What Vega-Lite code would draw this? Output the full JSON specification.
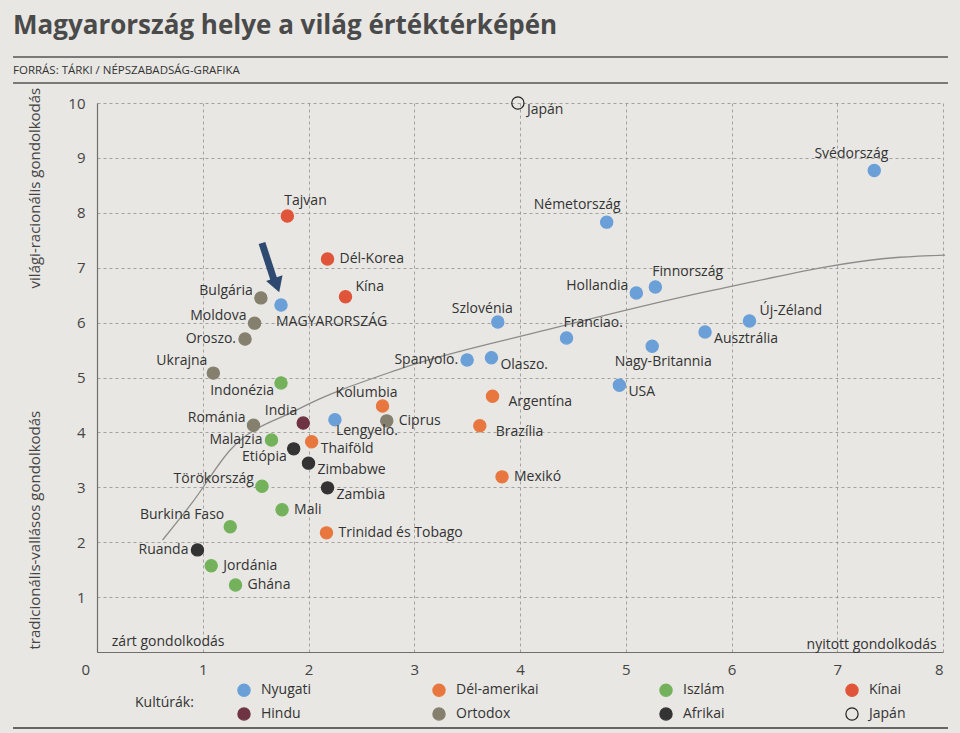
{
  "$schema": "https://vega.github.io/schema/vega-lite/v6.json",
  "width": 846,
  "height": 549,
  "autosize": {"type": "none"},
  "padding": {"left": 97, "top": 103, "right": 17, "bottom": 81},
  "background": "#e8e7e3",
  "config": {
    "view": {"stroke": null},
    "font": "Open Sans",
    "text": {"font": "Open Sans"}
  },
  "title": {
    "text": "Magyarország helye a világ értéktérképén",
    "subtitle": "FORRÁS: TÁRKI / NÉPSZABADSÁG-GRAFIKA",
    "anchor": "start",
    "frame": "group",
    "dx": -84,
    "dy": 40,
    "offset": 20,
    "fontSize": 26,
    "fontWeight": "bold",
    "color": "#4a4a4a",
    "subtitleFontSize": 11.5,
    "subtitleColor": "#333333",
    "subtitlePadding": 26
  },
  "datasets": {
    "countries": [
      {"country": "Japán", "culture": "Japán", "x": 3.98, "y": 10.0},
      {"country": "Svédország", "culture": "Nyugati", "x": 7.35, "y": 8.77},
      {"country": "Németország", "culture": "Nyugati", "x": 4.82, "y": 7.83},
      {"country": "Tajvan", "culture": "Kínai", "x": 1.80, "y": 7.94},
      {"country": "Dél-Korea", "culture": "Kínai", "x": 2.18, "y": 7.16},
      {"country": "Kína", "culture": "Kínai", "x": 2.35, "y": 6.47},
      {"country": "MAGYARORSZÁG", "culture": "Nyugati", "x": 1.74, "y": 6.32},
      {"country": "Bulgária", "culture": "Ortodox", "x": 1.55, "y": 6.45},
      {"country": "Moldova", "culture": "Ortodox", "x": 1.49, "y": 5.99},
      {"country": "Oroszo.", "culture": "Ortodox", "x": 1.40, "y": 5.70},
      {"country": "Ukrajna", "culture": "Ortodox", "x": 1.10, "y": 5.08},
      {"country": "Indonézia", "culture": "Iszlám", "x": 1.74, "y": 4.90},
      {"country": "Hollandia", "culture": "Nyugati", "x": 5.10, "y": 6.54},
      {"country": "Finnország", "culture": "Nyugati", "x": 5.28, "y": 6.65},
      {"country": "Szlovénia", "culture": "Nyugati", "x": 3.79, "y": 6.01},
      {"country": "Franciao.", "culture": "Nyugati", "x": 4.44, "y": 5.72},
      {"country": "Nagy-Britannia", "culture": "Nyugati", "x": 5.25, "y": 5.57},
      {"country": "Ausztrália", "culture": "Nyugati", "x": 5.75, "y": 5.83},
      {"country": "Új-Zéland", "culture": "Nyugati", "x": 6.17, "y": 6.03},
      {"country": "Spanyolo.", "culture": "Nyugati", "x": 3.50, "y": 5.32},
      {"country": "Olaszo.", "culture": "Nyugati", "x": 3.73, "y": 5.36},
      {"country": "USA", "culture": "Nyugati", "x": 4.94, "y": 4.86},
      {"country": "Argentína", "culture": "Dél-amerikai", "x": 3.74, "y": 4.66},
      {"country": "Brazília", "culture": "Dél-amerikai", "x": 3.62, "y": 4.12},
      {"country": "Mexikó", "culture": "Dél-amerikai", "x": 3.83, "y": 3.19},
      {"country": "Kolumbia", "culture": "Dél-amerikai", "x": 2.70, "y": 4.48},
      {"country": "Ciprus", "culture": "Ortodox", "x": 2.74, "y": 4.21},
      {"country": "Lengyelo.", "culture": "Nyugati", "x": 2.25, "y": 4.23},
      {"country": "India", "culture": "Hindu", "x": 1.95, "y": 4.17},
      {"country": "Románia", "culture": "Ortodox", "x": 1.48, "y": 4.13},
      {"country": "Malajzia", "culture": "Iszlám", "x": 1.65, "y": 3.86},
      {"country": "Etiópia", "culture": "Afrikai", "x": 1.86, "y": 3.70},
      {"country": "Thaiföld", "culture": "Dél-amerikai", "x": 2.03, "y": 3.83},
      {"country": "Zimbabwe", "culture": "Afrikai", "x": 2.00, "y": 3.44},
      {"country": "Zambia", "culture": "Afrikai", "x": 2.18, "y": 2.99},
      {"country": "Törökország", "culture": "Iszlám", "x": 1.56, "y": 3.02},
      {"country": "Mali", "culture": "Iszlám", "x": 1.75, "y": 2.59},
      {"country": "Burkina Faso", "culture": "Iszlám", "x": 1.26, "y": 2.28},
      {"country": "Trinidad és Tobago", "culture": "Dél-amerikai", "x": 2.17, "y": 2.17},
      {"country": "Ruanda", "culture": "Afrikai", "x": 0.95, "y": 1.86},
      {"country": "Jordánia", "culture": "Iszlám", "x": 1.08, "y": 1.57},
      {"country": "Ghána", "culture": "Iszlám", "x": 1.31, "y": 1.22}
    ],
    "curve": [
      {"x": 0.62, "y": 2.04},
      {"x": 0.90, "y": 2.72},
      {"x": 1.26, "y": 3.68},
      {"x": 1.89, "y": 4.41},
      {"x": 2.84, "y": 5.14},
      {"x": 4.26, "y": 5.87},
      {"x": 5.83, "y": 6.59},
      {"x": 7.59, "y": 7.19},
      {"x": 8.02, "y": 7.23}
    ]
  },
  "data": {"name": "countries"},
  "encoding": {
    "x": {
      "field": "x",
      "type": "quantitative",
      "scale": {"domain": [0, 8], "nice": false, "zero": false},
      "axis": {
        "title": null,
        "values": [0, 1, 2, 3, 4, 5, 6, 7, 8],
        "grid": true,
        "gridDash": [3, 3],
        "gridColor": "#8f8f8f",
        "gridWidth": 0.8,
        "domainColor": "#6f6f6f",
        "domainWidth": 1.2,
        "ticks": false,
        "labelPadding": 10,
        "labelFontSize": 15,
        "labelColor": "#444444",
        "labelFont": "Open Sans",
        "labelOffset": {"condition": {"test": "datum.value === 0", "value": -16}, "value": 0}
      }
    },
    "y": {
      "field": "y",
      "type": "quantitative",
      "scale": {"domain": [0, 10], "nice": false, "zero": false},
      "axis": {
        "title": null,
        "values": [0, 1, 2, 3, 4, 5, 6, 7, 8, 9, 10],
        "labelExpr": "datum.value === 0 ? '' : datum.label",
        "grid": true,
        "gridDash": [3, 3],
        "gridColor": "#8f8f8f",
        "gridWidth": 0.8,
        "domainColor": "#6f6f6f",
        "domainWidth": 1.2,
        "ticks": false,
        "labelPadding": 12,
        "labelFontSize": 15,
        "labelColor": "#444444",
        "labelFont": "Open Sans"
      }
    }
  },
  "layer": [
    {
      "data": {"values": [
        {"x": -0.794, "x2": 8.047, "y": 10.838},
        {"x": -0.794, "x2": 8.047, "y": 10.364}
      ]},
      "mark": {"type": "rule", "color": "#555555", "strokeWidth": 1.3},
      "encoding": {"x2": {"field": "x2"}}
    },
    {
      "data": {"values": [{"x": -0.794, "x2": 8.047, "y": -1.384}]},
      "mark": {"type": "rule", "color": "#666666", "strokeWidth": 2},
      "encoding": {"x2": {"field": "x2"}}
    },
    {
      "data": {"name": "curve"},
      "mark": {"type": "line", "interpolate": "monotone", "color": "#8c8c8c", "strokeWidth": 1.3}
    },
    {
      "data": {"values": [
        {"text": "világi-racionális gondolkodás", "x": -0.586, "y": 8.45},
        {"text": "tradicionális-vallásos gondolkodás", "x": -0.586, "y": 2.22}
      ]},
      "mark": {"type": "text", "angle": 270, "align": "center", "baseline": "middle", "fontSize": 15, "color": "#444444"},
      "encoding": {"text": {"field": "text"}}
    },
    {
      "data": {"values": [{"text": "zárt gondolkodás", "x": 0.14, "y": 0.18}]},
      "mark": {"type": "text", "align": "left", "baseline": "middle", "fontSize": 14, "color": "#333333"},
      "encoding": {"text": {"field": "text"}}
    },
    {
      "data": {"values": [{"text": "nyitott gondolkodás", "x": 7.94, "y": 0.13}]},
      "mark": {"type": "text", "align": "right", "baseline": "middle", "fontSize": 14, "color": "#333333"},
      "encoding": {"text": {"field": "text"}}
    },
    {
      "data": {"values": [{"x": 1.56, "y": 7.45, "x2": 1.68, "y2": 6.74}]},
      "mark": {"type": "rule", "color": "#2e4a70", "strokeWidth": 7},
      "encoding": {"x2": {"field": "x2"}, "y2": {"field": "y2"}}
    },
    {
      "data": {"values": [{"x": 1.70, "y": 6.68}]},
      "mark": {"type": "point", "shape": "triangle-down", "filled": true, "size": 300, "angle": 341, "color": "#2e4a70", "opacity": 1}
    },
    {
      "mark": {"type": "point", "filled": true, "size": 150, "strokeWidth": 1.2, "opacity": 1},
      "encoding": {
        "fill": {
          "field": "culture",
          "type": "nominal",
          "scale": {
            "domain": ["Nyugati", "Dél-amerikai", "Iszlám", "Kínai", "Hindu", "Ortodox", "Afrikai", "Japán"],
            "range": ["#6a9fd8", "#e8773f", "#73b25b", "#e0553a", "#6e3444", "#857f6e", "#333333", "transparent"]
          },
          "legend": {
            "title": "Kultúrák:",
            "orient": "none",
            "legendX": 38,
            "legendY": 580,
            "direction": "horizontal",
            "columns": 4,
            "titleOrient": "left",
            "titleAnchor": "middle",
            "titleFontSize": 14,
            "titleFontWeight": "normal",
            "titleColor": "#333333",
            "titlePadding": 43,
            "labelFontSize": 14,
            "labelColor": "#333333",
            "labelOffset": 10,
            "symbolSize": 150,
            "symbolStrokeWidth": 1.2,
            "rowPadding": 6,
            "columnPadding": 118
          }
        },
        "stroke": {
          "field": "culture",
          "type": "nominal",
          "scale": {
            "domain": ["Nyugati", "Dél-amerikai", "Iszlám", "Kínai", "Hindu", "Ortodox", "Afrikai", "Japán"],
            "range": ["#6a9fd8", "#e8773f", "#73b25b", "#e0553a", "#6e3444", "#857f6e", "#333333", "#222222"]
          },
          "legend": {
            "title": "Kultúrák:",
            "orient": "none",
            "legendX": 38,
            "legendY": 580,
            "direction": "horizontal",
            "columns": 4,
            "titleOrient": "left",
            "titleAnchor": "middle",
            "titleFontSize": 14,
            "titleFontWeight": "normal",
            "titleColor": "#333333",
            "titlePadding": 43,
            "labelFontSize": 14,
            "labelColor": "#333333",
            "labelOffset": 10,
            "symbolSize": 150,
            "symbolStrokeWidth": 1.2,
            "rowPadding": 6,
            "columnPadding": 118
          }
        }
      }
    },
    {
      "transform": [{"filter": {"field": "country", "oneOf": ["Dél-Korea", "Ciprus", "Mali", "Trinidad és Tobago", "Jordánia", "Ghána", "Mexikó"]}}],
      "mark": {"type": "text", "align": "left", "baseline": "middle", "dx": 12, "dy": 0, "fontSize": 14, "color": "#333333"},
      "encoding": {"text": {"field": "country"}}
    },
    {
      "transform": [{"filter": {"field": "country", "oneOf": ["Zambia", "Zimbabwe", "Thaiföld", "USA", "Olaszo.", "Ausztrália", "Japán"]}}],
      "mark": {"type": "text", "align": "left", "baseline": "middle", "dx": 9, "dy": 7, "fontSize": 14, "color": "#333333"},
      "encoding": {"text": {"field": "country"}}
    },
    {
      "transform": [{"filter": {"field": "country", "oneOf": ["Argentína", "Brazília"]}}],
      "mark": {"type": "text", "align": "left", "baseline": "middle", "dx": 16, "dy": 6, "fontSize": 14, "color": "#333333"},
      "encoding": {"text": {"field": "country"}}
    },
    {
      "transform": [{"filter": {"field": "country", "oneOf": ["Új-Zéland", "Kína"]}}],
      "mark": {"type": "text", "align": "left", "baseline": "middle", "dx": 10, "dy": -10, "fontSize": 14, "color": "#333333"},
      "encoding": {"text": {"field": "country"}}
    },
    {
      "transform": [{"filter": {"field": "country", "oneOf": ["Ruanda", "Spanyolo.", "Oroszo.", "Malajzia"]}}],
      "mark": {"type": "text", "align": "right", "baseline": "middle", "dx": -9, "dy": 0, "fontSize": 14, "color": "#333333"},
      "encoding": {"text": {"field": "country"}}
    },
    {
      "transform": [{"filter": {"field": "country", "oneOf": ["Hollandia", "Moldova", "Bulgária", "Románia", "Törökország"]}}],
      "mark": {"type": "text", "align": "right", "baseline": "middle", "dx": -8, "dy": -7, "fontSize": 14, "color": "#333333"},
      "encoding": {"text": {"field": "country"}}
    },
    {
      "transform": [{"filter": {"field": "country", "oneOf": ["India", "Burkina Faso", "Ukrajna"]}}],
      "mark": {"type": "text", "align": "right", "baseline": "middle", "dx": -6, "dy": -12, "fontSize": 14, "color": "#333333"},
      "encoding": {"text": {"field": "country"}}
    },
    {
      "transform": [{"filter": {"field": "country", "oneOf": ["Etiópia", "Indonézia"]}}],
      "mark": {"type": "text", "align": "right", "baseline": "middle", "dx": -7, "dy": 8, "fontSize": 14, "color": "#333333"},
      "encoding": {"text": {"field": "country"}}
    },
    {
      "transform": [{"filter": {"field": "country", "oneOf": ["Svédország", "Németország"]}}],
      "mark": {"type": "text", "align": "right", "baseline": "middle", "dx": 14, "dy": -17, "fontSize": 14, "color": "#333333"},
      "encoding": {"text": {"field": "country"}}
    },
    {
      "transform": [{"filter": {"field": "country", "oneOf": ["Szlovénia", "Kolumbia"]}}],
      "mark": {"type": "text", "align": "right", "baseline": "middle", "dx": 15, "dy": -13, "fontSize": 14, "color": "#333333"},
      "encoding": {"text": {"field": "country"}}
    },
    {
      "transform": [{"filter": {"field": "country", "oneOf": ["Tajvan", "Finnország", "Franciao."]}}],
      "mark": {"type": "text", "align": "left", "baseline": "middle", "dx": -3, "dy": -15, "fontSize": 14, "color": "#333333"},
      "encoding": {"text": {"field": "country"}}
    },
    {
      "transform": [{"filter": {"field": "country", "equal": "MAGYARORSZÁG"}}],
      "mark": {"type": "text", "align": "left", "baseline": "middle", "dx": -5, "dy": 17, "fontSize": 14, "color": "#333333"},
      "encoding": {"text": {"field": "country"}}
    },
    {
      "transform": [{"filter": {"field": "country", "equal": "Lengyelo."}}],
      "mark": {"type": "text", "align": "left", "baseline": "middle", "dx": 1, "dy": 11, "fontSize": 14, "color": "#333333"},
      "encoding": {"text": {"field": "country"}}
    },
    {
      "transform": [{"filter": {"field": "country", "equal": "Nagy-Britannia"}}],
      "mark": {"type": "text", "align": "center", "baseline": "middle", "dx": 11, "dy": 16, "fontSize": 14, "color": "#333333"},
      "encoding": {"text": {"field": "country"}}
    }
  ]
}
